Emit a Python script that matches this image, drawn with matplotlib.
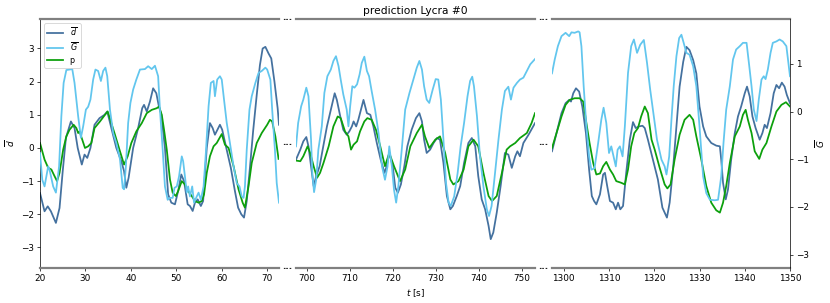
import matplotlib.pyplot as plt

# Panel 1 (20 - 72.6 s)
t_d1 = [20, 21, 21.7, 22.4, 23.5, 24.3, 25, 25.7, 26.8, 27.6, 28.3, 29.2, 29.8, 30.4, 31.1, 32, 33.1, 34.2, 34.8, 35.7,
        36.8, 37.9, 38.5, 39, 39.5, 40.5, 41.6, 42.5, 42.9, 43.5, 44.2, 44.9, 45.6, 46.1, 46.7, 47.5, 48.2, 48.9, 49.7,
        50.4, 51.1, 51.7, 52.5, 53, 53.6, 54.1, 54.7, 55.4, 55.9, 56.7, 57.4, 58, 58.5, 59.6, 60.1, 61, 62, 62.9, 63.6,
        64.3, 64.9, 65.5, 66.2, 66.9, 67.7, 68.4, 69, 69.6, 70.3, 70.9, 71.6, 72.3, 72.6]
d1 = [-1.36, -1.91, -1.76, -1.91, -2.26, -1.81, -0.7, 0.3, 0.8, 0.6, 0, -0.5, -0.2, -0.3, 0, 0.7, 0.9, 1.0, 1.1, 0.6,
      0, -0.4, -0.7, -1.2, -0.9, 0, 0.6, 1.2, 1.3, 1.1, 1.4, 1.8, 1.65, 1.3, 1.0, 0, -1.4, -1.65, -1.7,
      -1.3, -0.8, -1.0, -1.7, -1.75, -1.9, -1.65, -1.55, -1.75, -1.6, 0, 0.75, 0.6, 0.4, 0.7, 0.55, 0, -0.6, -1.3, -1.8,
      -2.0, -2.1, -1.6, -0.6, 0.5, 1.6, 2.5, 3.0, 3.05, 2.85, 2.7, 2.0, 1.2, 0.7]
t_G1 = [20, 20.5, 21, 21.8, 22.1, 22.9, 23.5, 24.2, 24.7, 25.2, 25.8, 26.5, 27.1, 27.6, 28.4, 29, 29.5, 30.1, 30.6,
        31.1, 31.7, 32.2, 32.8, 33.4, 33.9, 34.4, 34.8, 35.4, 36.1, 36.8, 37.6, 38.2, 38.5, 38.9, 39.4, 39.9, 40.5,
        41.2, 42, 43.1, 43.8, 44.6, 45.3, 46, 46.4, 47, 47.5, 48.1, 48.6, 49.2, 49.6, 50.1, 50.6, 51.2, 51.5, 51.9,
        52.3, 52.6, 53, 53.5, 53.9, 54.5, 54.9, 55.4, 56, 56.5, 57.1, 57.6, 58.2, 58.5, 59, 59.6, 60, 60.5, 61.1,
        61.8, 62.6, 63.3, 63.9, 64.4, 64.8, 65.1, 65.5, 66.1, 66.6, 67.4, 68.1, 68.8, 69.6, 70, 70.7, 71.1, 71.7,
        72.1, 72.6]
G1 = [-0.87, -1.43, -1.57, -1.15, -1.22, -1.57, -1.70, -1.15, -0.1, 0.6, 0.87, 0.88, 0.89, 0.6, -0.1, -0.55, -0.31,
      0.04, 0.1, 0.25, 0.67, 0.88, 0.85, 0.64, 0.85, 0.92, 0.74, 0.04, -0.45, -0.66, -1.0, -1.6, -1.63, -1.15, -0.24,
      0.18, 0.46, 0.67, 0.88, 0.89, 0.95, 0.89, 0.96, 0.74, 0.04, -0.8, -1.57, -1.85, -1.81, -1.81, -1.6, -1.57,
      -1.36, -0.94, -1.04, -1.36, -1.7, -1.57, -1.78, -1.57, -1.91, -1.78, -1.70, -1.85, -1.57, -0.87, 0.11, 0.6,
      0.64, 0.32, 0.67, 0.74, 0.67, 0.25, -0.24, -0.66, -1.15, -1.5, -1.57, -1.78, -1.81, -1.57, -0.8, 0.04, 0.32,
      0.6, 0.81, 0.85, 0.92, 0.88, 0.67, 0.04, -0.8, -1.5, -1.91]
t_p1 = [20, 21, 21.8, 22.5, 23.2, 23.75, 24.3, 25.1, 25.8, 26.5, 27.4, 28, 28.4, 28.7, 29.3, 29.9, 30.6, 31.3, 32,
        33.2, 34.3, 34.9, 35.7, 36.5, 37.6, 38.5, 39.3, 40.1, 41.2, 42.4, 43.5, 44.6, 45.7, 46.2, 46.8, 47.3, 47.9,
        48.6, 49.2, 49.9, 50.4, 51.2, 51.9, 52.6, 53.4, 54.1, 54.9, 55.6, 56.1, 56.7, 57.4, 58.2, 58.9, 60, 60.7,
        61.5, 62.6, 63.7, 64.6, 65.1, 65.9, 66.6, 67.7, 68.8, 70, 70.6, 71.1, 71.8, 72.5]
p1 = [0.15, -0.35, -0.6, -0.65, -0.85, -1.0, -0.75, -0.05, 0.35, 0.55, 0.7, 0.6, 0.45, 0.5, 0.25, 0, 0.05, 0.15, 0.6,
      0.8, 1.0, 1.1, 0.75, 0.4, -0.1, -0.5, -0.25, 0.15, 0.5, 0.75, 1.05, 1.15, 1.2, 1.25, 1.0, 0.55, -0.05,
      -0.95, -1.35, -1.45, -1.3, -1.0, -1.1, -1.3, -1.45, -1.6, -1.65, -1.6, -1.4, -0.75, -0.25, 0.05, 0.15, 0.42, 0.1,
      0, -0.55, -1.25, -1.65, -1.8, -1.15, -0.45, 0.15, 0.45, 0.7, 0.85, 0.8, 0.35, -0.33]

# Panel 2 (697.4 - 753 s)
t_d2 = [697.4, 698.4, 699.1, 699.8, 700.3, 700.9, 701.5, 702.1, 702.9, 703.6, 704.6, 705.5, 706.4, 706.9, 707.7,
        708.4, 709.2, 709.8, 710.4, 710.8, 711.4, 711.9, 712.7, 713.1, 713.9, 714.7, 715.4, 716.2, 717.1, 718,
        718.5, 719.1, 719.9, 720.5, 721.1, 721.8, 722.6, 723.3, 724.3, 725.3, 726.1, 726.7, 727.2, 727.8, 728.6,
        729.4, 730.2, 730.9, 731.7, 732.5, 733.3, 733.9, 734.8, 735.6, 736.5, 737.5, 738.3, 739.1, 739.8, 740.6,
        741.4, 742.2, 742.7, 743.3, 744.1, 745, 746, 746.8, 747.6, 748.4, 748.9, 749.5, 750.3, 751.5, 753]
d2 = [-0.35, -0.05, 0.2, 0.33, 0.05, -0.55, -1.15, -0.85, -0.55, -0.05, 0.65, 1.15, 1.65, 1.45, 0.95,
      0.55, 0.4, 0.5, 0.65, 0.8, 0.65, 0.85, 1.25, 1.45, 1.05, 1.0, 0.65, 0.15, -0.35, -0.75,
      -0.55, -0.15, -0.55, -1.2, -1.35, -1.1, -0.55, 0.05, 0.55, 0.9, 1.05, 0.8, 0.25, -0.15, -0.05,
      0.15, 0.3, 0.25, -0.45, -1.45, -1.85, -1.75, -1.45, -1.15, -0.45, 0.15, 0.3, 0.05, -0.85, -1.55,
      -1.85, -2.35, -2.75, -2.55, -1.95, -1.15, -0.15, -0.2, -0.6, -0.25, -0.1, -0.25, 0.15, 0.4, 0.75]
t_G2 = [697.4, 697.9, 698.6, 699.1, 699.8, 700.3, 700.9, 701.2, 701.6, 702.1, 702.6, 703.4, 704, 704.7, 705.5,
        706.1, 706.7, 707.3, 707.8, 708.4, 709.2, 709.6, 710, 710.5, 711, 711.6, 712.2, 712.7, 713.3, 713.9,
        714.4, 715, 715.8, 716.6, 717.4, 718.1, 718.7, 719.1, 719.7, 720.2, 720.7, 721.2, 722, 722.8, 723.8,
        724.7, 725.5, 726.1, 726.7, 727.2, 727.8, 728.4, 729.2, 729.9, 730.5, 731.1, 731.7, 732.3, 732.9, 733.4,
        734.2, 735, 735.7, 736.5, 737.3, 737.9, 738.4, 738.8, 739.5, 740.2, 741, 741.8, 742.3, 742.9, 743.7,
        744.5, 745.3, 746, 746.8, 747.4, 748, 748.8, 749.5, 750.3, 751.1, 751.9, 753]
G2 = [-0.73, -0.24, 0.11, 0.25, 0.5, 0.32, -0.59, -1.29, -1.69, -1.43, -0.8, -0.31, 0.39, 0.74, 0.88,
      1.06, 1.16, 0.95, 0.67, 0.36, 0.04, -0.31, 0.11, 0.53, 0.5, 0.57, 0.78, 1.02, 1.15, 0.85,
      0.74, 0.43, 0.04, -0.45, -1.15, -1.43, -1.15, -0.73, -1.15, -1.64, -1.91, -1.57, -0.8, 0.04, 0.39,
      0.67, 0.92, 1.06, 0.88, 0.53, 0.25, 0.18, 0.46, 0.68, 0.67, 0.25, -0.59, -1.5, -1.91, -1.98,
      -1.78, -1.29, -0.73, -0.24, 0.32, 0.64, 0.73, 0.53, -0.1, -0.94, -1.57, -2.05, -2.19, -1.98, -1.29,
      -0.59, 0.04, 0.43, 0.52, 0.25, 0.5, 0.6, 0.67, 0.71, 0.85, 0.99, 1.1]
t_p2 = [697.4, 698.4, 699.1, 700.1, 700.7, 701.5, 702.3, 703, 703.8, 705, 706.1, 707.1, 707.8, 708.8, 709.6,
        710.2, 710.8, 711.6, 712.3, 713.3, 714, 715, 716, 717, 718.1, 719.1, 720.2, 721.6, 722.8, 724,
        725.5, 726.7, 727.4, 728.4, 729.8, 730.9, 732.1, 733.3, 734, 735.2, 736.4, 737.5, 738.7, 739.8, 741,
        742.2, 743, 744.1, 745.3, 746.4, 747.2, 748.4, 749.5, 751.1, 752.2, 753]
p2 = [-0.38, -0.4, -0.25, 0.05, -0.15, -0.55, -0.9, -0.75, -0.45, 0.05, 0.65, 0.95, 0.9, 0.5, 0.35,
      -0.05, 0.1, 0.2, 0.5, 0.8, 0.9, 0.85, 0.55, 0.05, -0.55, -0.15, -0.55, -1.0, -0.65, 0.05,
      0.45, 0.7, 0.35, 0, 0.25, 0.35, -0.15, -0.95, -1.1, -1.0, -0.65, 0.05, 0.25, 0.05, -0.75,
      -1.45, -1.6, -1.45, -0.75, -0.05, 0.05, 0.15, 0.3, 0.45, 0.75, 1.05]

# Panel 3 (1297.4 - 1350 s)
t_d3 = [1297.4, 1298.4, 1299.5, 1300.4, 1301.2, 1301.6, 1302.1, 1302.7, 1303.4, 1304.1, 1304.9, 1305.6, 1306.2,
        1306.7, 1307.2, 1308, 1308.7, 1309.1, 1309.6, 1310.2, 1310.9, 1311.5, 1312, 1312.5, 1313.1, 1313.8,
        1314.6, 1315.3, 1315.9, 1316.6, 1317.4, 1317.9, 1318.6, 1319.7, 1320.8, 1321.8, 1322.3, 1322.8, 1323.4,
        1324.2, 1324.9, 1325.6, 1326.4, 1327.1, 1327.8, 1328.6, 1329.3, 1330, 1330.8, 1331.5, 1332.6, 1333.7,
        1334.5, 1334.8, 1335.2, 1335.8, 1336.3, 1337, 1337.8, 1338.5, 1339.2, 1340, 1340.5, 1341.1, 1341.7,
        1342.4, 1343.3, 1343.9, 1344.4, 1344.9, 1345.7, 1346.4, 1347, 1347.6, 1348.2, 1348.8, 1349.3, 1350]
d3 = [-0.1, 0.45, 1.05, 1.35, 1.45, 1.4, 1.65, 1.8, 1.7, 1.25, 0.45, -0.65, -1.45,
      -1.6, -1.7, -1.4, -0.8, -0.75, -1.15, -1.6, -1.65, -1.85, -1.65, -1.85, -1.75, -0.75,
      0.25, 0.78, 0.6, 0.65, 0.67, 0.6, 0.25, -0.35, -0.95, -1.8, -1.95, -2.1, -1.65,
      -0.55, 0.65, 1.85, 2.6, 3.05, 2.95, 2.65, 2.25, 1.25, 0.65, 0.35, 0.15, 0.07,
      0.05, -0.35, -1.05, -1.55, -1.25, -0.35, 0.45, 0.95, 1.25, 1.65, 1.85, 1.55, 0.95,
      0.6, 0.25, 0.45, 0.7, 0.6, 1.05, 1.65, 1.9, 1.8, 1.97, 1.85, 1.6, 1.35]
t_G3 = [1297.4, 1298, 1298.7, 1299.5, 1300.4, 1301.2, 1301.7, 1302.4, 1303.2, 1303.5, 1303.9, 1304.4, 1305,
        1305.6, 1306.1, 1306.8, 1307.6, 1308.3, 1308.8, 1309.4, 1310, 1310.5, 1311, 1311.5, 1311.9, 1312.4,
        1313, 1313.5, 1314.2, 1314.9, 1315.5, 1316.2, 1316.9, 1317.7, 1318.4, 1319.1, 1319.9, 1320.6, 1321.6,
        1322.3, 1322.7, 1323.3, 1323.8, 1324.3, 1324.9, 1325.5, 1326, 1326.5, 1327.1, 1327.8, 1328.6, 1329.3,
        1330, 1330.8, 1331.5, 1332.3, 1333.4, 1334.1, 1334.8, 1335.3, 1335.9, 1336.7, 1337.4, 1338.1, 1338.9,
        1339.6, 1340.4, 1341, 1341.5, 1342, 1342.6, 1343.1, 1343.7, 1344.2, 1344.6, 1345.1, 1345.7, 1346.2,
        1347, 1347.7, 1348.4, 1349.2, 1350]
G3 = [0.8, 1.09, 1.37, 1.58, 1.65, 1.58, 1.66, 1.65, 1.68, 1.66, 1.37, 0.53, -0.31,
      -0.94, -1.22, -1.19, -0.66, -0.17, 0.08, -0.24, -0.87, -0.73, -0.94, -1.15, -0.8, -0.73,
      -0.94, -0.31, 0.81, 1.37, 1.51, 1.23, 1.4, 1.5, 1.02, 0.46, -0.1, -0.59, -1.01,
      -1.15, -1.32, -0.94, -0.17, 0.53, 1.16, 1.54, 1.61, 1.44, 1.23, 1.19, 0.95, 0.53,
      -0.31, -1.36, -1.71, -1.85, -1.86, -1.85, -1.36, -0.66, 0.04, 0.53, 1.09, 1.3, 1.37,
      1.44, 1.44, 0.95, 0.53, 0.04, -0.2, 0.25, 0.67, 0.74, 0.68, 0.88, 1.23, 1.44,
      1.47, 1.51, 1.47, 1.37, 0.74]
t_p3 = [1297.4, 1298.4, 1299.5, 1300.4, 1301.3, 1302.4, 1303.5, 1304.3, 1305, 1305.7, 1306.5, 1307.2, 1308,
        1308.7, 1309.4, 1310.2, 1310.9, 1311.6, 1312.7, 1313.5, 1314.2, 1314.9, 1315.6, 1316.4, 1317.1, 1317.9,
        1318.6, 1319.4, 1320.1, 1321.2, 1322.3, 1322.9, 1323.6, 1324.5, 1325.6, 1326.7, 1327.8, 1328.6, 1329.3,
        1330.4, 1331.5, 1332.6, 1333.7, 1334.5, 1335.2, 1335.9, 1336.7, 1337.8, 1338.9, 1339.6, 1340.2, 1340.7,
        1341.5, 1342.2, 1343.2, 1343.9, 1344.8, 1345.9, 1347, 1348.1, 1349.1, 1350]
p3 = [0, 0.45, 0.95, 1.3, 1.45, 1.5, 1.5, 1.4, 0.75, 0.15, -0.45, -0.8, -0.77,
      -0.55, -0.42, -0.65, -0.8, -1.0, -1.05, -1.1, -0.65, 0.05, 0.45, 0.6, 0.95, 1.25,
      1.05, 0.25, -0.05, -0.6, -1.1, -1.22, -1.1, -0.35, 0.4, 0.85, 1.0, 0.85, 0.35,
      -0.35, -1.15, -1.65, -1.88, -1.95, -1.65, -1.15, -0.45, 0.35, 0.65, 1.0, 1.15, 0.85,
      0.45, -0.1, -0.33, -0.05, 0.15, 0.65, 1.1, 1.3, 1.38, 1.25]

panels = [
    (t_d1, d1, t_G1, G1, t_p1, p1, (20, 72.6), [20, 30, 40, 50, 60, 70]),
    (t_d2, d2, t_G2, G2, t_p2, p2, (697.4, 753.0), [700, 710, 720, 730, 740, 750]),
    (t_d3, d3, t_G3, G3, t_p3, p3, (1297.4, 1350), [1300, 1310, 1320, 1330, 1340, 1350]),
]

c_d = '#44719f'
c_G = '#62c6ee'
c_p = '#0ca00c'
gray = '#808080'

W, H = 830, 303
x_edges = [(40, 279), (296, 535), (552, 790)]
top, bot = 19, 268

fig = plt.figure(figsize=(13, 4.746), dpi=63.8462)

axes = []
for i, (td, d, tg, g, tp, p, xl, xt) in enumerate(panels):
    x0, x1 = x_edges[i]
    ax = fig.add_axes([x0 / W, 1 - bot / H, (x1 - x0) / W, (bot - top) / H])
    ax2 = ax.twinx()
    h_d, = ax.plot(td, d, color=c_d, lw=2, label=r'$\overline{d}$')
    h_p, = ax.plot(tp, p, color=c_p, lw=2, label='p')
    h_g, = ax2.plot(tg, g, color=c_G, lw=2, label=r'$\overline{G}$')
    ax.set_xlim(xl)
    ax.set_xticks(xt)
    ax.set_ylim(-3.62, 3.89)
    ax2.set_ylim(-3.28, 1.94)
    ax.set_yticks([-3, -2, -1, 0, 1, 2, 3])
    ax2.set_yticks([-3, -2, -1, 0, 1])

    for a in (ax, ax2):
        a.spines['top'].set_color(gray)
        a.spines['top'].set_linewidth(2.5)
        a.spines['bottom'].set_color(gray)
        a.spines['bottom'].set_linewidth(2.5)
    ax2.spines['top'].set_visible(False)
    ax2.spines['bottom'].set_visible(False)
    ax.spines['right'].set_visible(False)
    ax2.spines['left'].set_visible(False)
    ax.spines['left'].set_visible(i == 0)
    ax2.spines['right'].set_visible(i == 2)
    ax.tick_params(left=(i == 0), labelleft=(i == 0))
    ax2.tick_params(right=(i == 2), labelright=(i == 2))
    axes.append((ax, ax2))
    if i == 0:
        ax2.legend([h_d, h_g, h_p], [r'$\overline{d}$', r'$\overline{G}$', 'p'], loc='upper left',
                   fontsize=9, labelspacing=0.35)

axes[0][0].set_ylabel(r'$\overline{d}$')
axes[2][1].set_ylabel(r'$\overline{G}$')
axes[1][0].set_xlabel(r'$t$ [s]')
axes[1][0].set_title('prediction Lycra #0')

# "..." markers in the gaps between the panels
for gx in [(279 + 296) / 2, (535 + 552) / 2]:
    for gy in [top, (top + bot) / 2, bot]:
        fig.text(gx / W, 1 - (gy + 1) / H, '...', ha='center', va='baseline', color='#222222',
                 fontweight='bold')

fig.savefig('out.png', dpi=63.8462)
